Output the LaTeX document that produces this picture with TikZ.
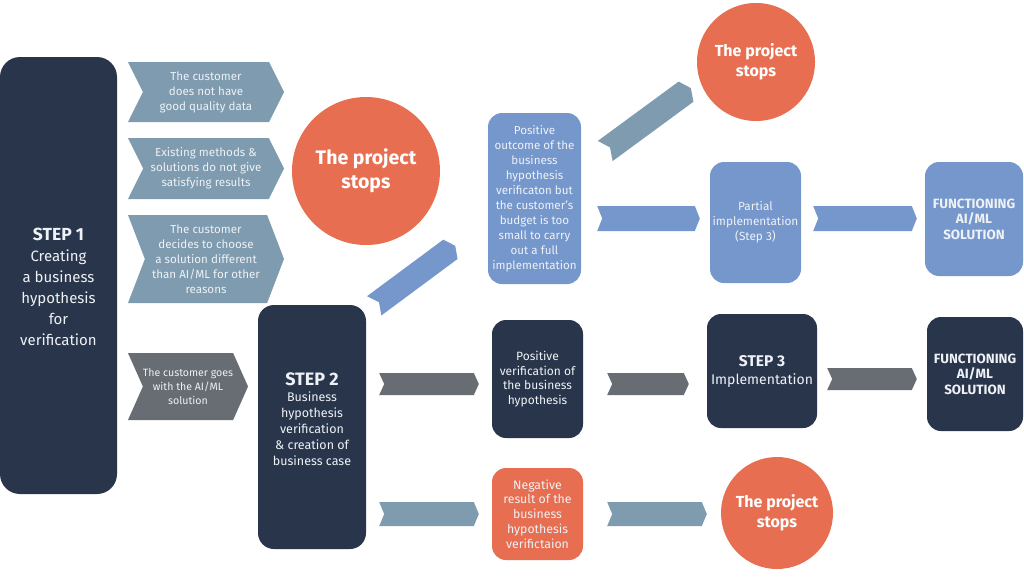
\documentclass[tikz,border=0pt]{standalone}
\usepackage{fontspec}
\setmainfont{Fira Sans}
\usetikzlibrary{shapes.symbols,positioning,calc}

\definecolor{navy}{HTML}{28354B}
\definecolor{steel}{HTML}{7E9BAF}
\definecolor{cornflower}{HTML}{7597CC}
\definecolor{coral}{HTML}{E76E51}
\definecolor{slate}{HTML}{686C73}
\definecolor{paper}{HTML}{EEF2F6}

\tikzset{
	box/.style={rectangle, rounded corners=14pt, text=paper, align=center, inner sep=2pt},
	stopcircle/.style={circle, fill=coral, text=white, align=center, inner sep=0pt},
	chev/.style={signal, signal to=east, signal from=west, fill=steel, text=paper,
		align=center, inner sep=0pt, font=\fontsize{11.6}{15}\selectfont},
	chevw/.store in=\chevw, chevd/.store in=\chevd, chevw=11.5pt, chevd=5pt,
	chevto/.style={to path={let \p1=(\tikztostart), \p2=(\tikztotarget),
		\n1={atan2(\y2-\y1,\x2-\x1)}, \n2={veclen(\x2-\x1,\y2-\y1)} in
		([shift={(\p1)},rotate=\n1]0pt,\chevw)
		-- ([shift={(\p1)},rotate=\n1]\n2-\chevd,\chevw)
		-- ([shift={(\p1)},rotate=\n1]\n2,0pt)
		-- ([shift={(\p1)},rotate=\n1]\n2-\chevd,-\chevw)
		-- ([shift={(\p1)},rotate=\n1]0pt,-\chevw)
		-- ([shift={(\p1)},rotate=\n1]\chevd,0pt) -- cycle}},
}

\begin{document}
\begin{tikzpicture}[x=1pt,y=-1pt]
	\useasboundingbox (0,0) rectangle (1024,576);
	\fill[white] (0,0) rectangle (1024,576);

	% steps
	\node[box, fill=navy, rounded corners=20pt, minimum width=117pt, minimum height=437pt,
		font=\fontsize{15}{21}\selectfont] (step1) at (58.5,275.5)
		{\mbox{}\\[14pt]{\fontsize{17.5}{21}\selectfont\bfseries STEP 1}\\Creating\\a business\\hypothesis\\for\\verification};
	\node[box, fill=navy, rounded corners=16pt, minimum width=108pt, minimum height=244pt,
		font=\fontsize{12.5}{16}\selectfont] (step2) at (312,427)
		{{\fontsize{18}{22}\selectfont\bfseries STEP 2}\\Business\\hypothesis\\verification\\\& creation of\\business case\\\mbox{}};
	\node[box, fill=navy, minimum width=110pt, minimum height=114pt,
		font=\fontsize{14}{18}\selectfont] (step3) at (762,371)
		{{\fontsize{15.5}{18}\selectfont\bfseries STEP 3}\\Implementation};

	% reasons
	\node[chev, minimum width=156pt, minimum height=60pt, signal pointer angle=127] (nodata) at (206,92)
		{The customer\\does not have\\good quality data};
	\node[chev, minimum width=156pt, minimum height=61pt, signal pointer angle=127] (nomethod) at (206,168.5)
		{Existing methods \&\\solutions do not give\\satisfying results};
	\node[chev, minimum width=156pt, minimum height=88pt, signal pointer angle=138] (other) at (206,259)
		{The customer\\decides to choose\\a solution different\\than AI/ML for other\\reasons};
	\node[chev, fill=slate, font=\fontsize{10.6}{14}\selectfont, minimum width=120pt, minimum height=67pt,
		signal pointer angle=132] (goes) at (188,386.5)
		{The customer goes\\with the AI/ML\\solution};

	% outcomes
	\node[stopcircle, minimum size=148pt, font=\fontsize{19.5}{24}\selectfont\bfseries] (stop1) at (366,171)
		{The project\\stops};
	\node[box, fill=cornflower, minimum width=93pt, minimum height=171pt,
		font=\fontsize{11.6}{15}\selectfont] (outcome) at (534.5,198.5)
		{Positive\\outcome of the\\business\\hypothesis\\verificaton but\\the customer's\\budget is too\\small to carry\\out a full\\implementation};
	\node[stopcircle, minimum size=118pt, font=\fontsize{16}{19.5}\selectfont\bfseries] (stop2) at (756,62)
		{The project\\stops};
	\node[box, fill=cornflower, minimum width=91pt, minimum height=121pt,
		font=\fontsize{11.8}{15}\selectfont] (partial) at (755.5,222.5)
		{Partial\\implementation\\(Step 3)};
	\node[box, fill=cornflower, minimum width=98pt, minimum height=114pt,
		font=\fontsize{13.4}{15.5}\selectfont\bfseries] (funcblue) at (974,219)
		{FUNCTIONING\\AI/ML\\SOLUTION};
	\node[box, fill=navy, minimum width=91pt, minimum height=118pt,
		font=\fontsize{12}{14.7}\selectfont] (posver) at (537.5,379)
		{Positive\\verification of\\the business\\hypothesis};
	\node[box, fill=navy, minimum width=96pt, minimum height=114pt,
		font=\fontsize{13.4}{15.5}\selectfont\bfseries] (funcnavy) at (975,374)
		{FUNCTIONING\\AI/ML\\SOLUTION};
	\node[box, fill=coral, minimum width=91pt, minimum height=92pt,
		font=\fontsize{12.3}{14.8}\selectfont] (neg) at (537.5,514)
		{Negative\\result of the\\business\\hypothesis\\verifictaion};
	\node[stopcircle, minimum size=112pt, font=\fontsize{16}{20}\selectfont\bfseries] (stop3) at (777,513)
		{The project\\stops};

	% connectors
	\path[fill=cornflower, chevto, chevw=12pt, chevd=6pt] ($(step2.north east)+(8,1)$) to ($(outcome.south west)+(-32.5,-38.5)$);
	\path[fill=steel, chevto, chevw=12.5pt, chevd=6pt] ($(outcome.east)+(24,-47.5)$) to ($(stop2.center)+(-65,26)$);
	\path[fill=cornflower, chevto, chevw=12.5pt] ($(outcome.east |- partial)+(16,-4)$) to ($(partial.west)+(-10,-4)$);
	\path[fill=cornflower, chevto, chevw=12.5pt] ($(partial.east)+(12,-4)$) to ($(funcblue.west |- partial)+(-8,-4)$);

	\path[fill=slate, chevto, chevw=11pt] ($(step2.east |- posver)+(13,5)$) to ($(posver.west)+(-13,5)$);
	\path[fill=slate, chevto, chevw=11pt] ($(posver.east)+(24,5)$) to ($(step3.west |- posver)+(-18,5)$);
	\path[fill=slate, chevto, chevw=11pt] ($(step3.east)+(10,8)$) to ($(funcnavy.west |- step3)+(-10,8)$);

	\path[fill=steel, chevto, chevw=12pt] ($(step2.east |- neg)+(13,0)$) to ($(neg.west)+(-13,0)$);
	\path[fill=steel, chevto, chevw=12pt] ($(neg.east)+(24,0)$) to ($(stop3.west |- neg)+(-14,0)$);
\end{tikzpicture}
\end{document}
